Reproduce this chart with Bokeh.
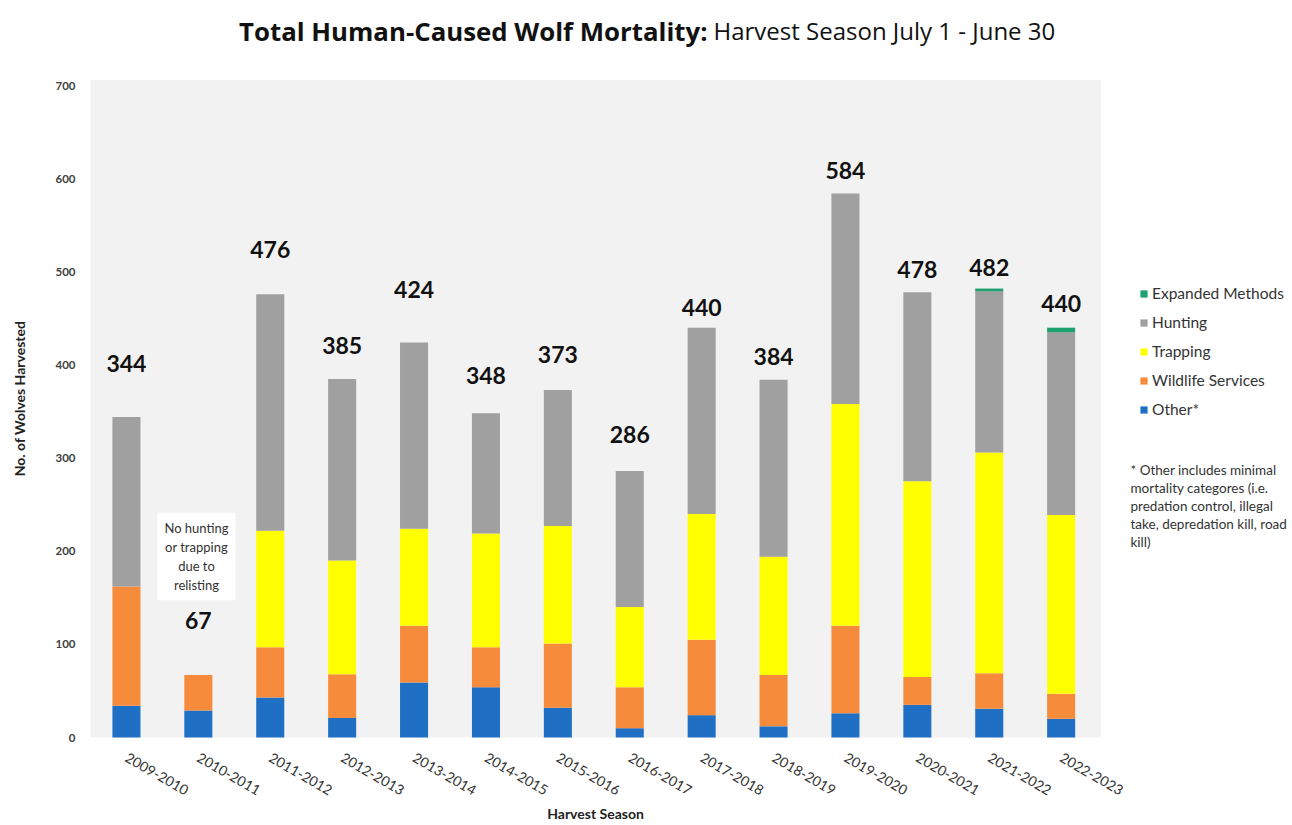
import math
from bokeh.plotting import figure
from bokeh.models import (ColumnDataSource, Legend, LegendItem, Label, LinearAxis,
                          FixedTicker, Range1d, BoxAnnotation, Grid)
from bokeh.core.properties import value
from bokeh.embed import file_html
from bokeh.resources import INLINE

# ---- data ----
seasons = ["2009-2010", "2010-2011", "2011-2012", "2012-2013", "2013-2014",
           "2014-2015", "2015-2016", "2016-2017", "2017-2018", "2018-2019",
           "2019-2020", "2020-2021", "2021-2022", "2022-2023"]
other = [34, 29, 43, 21, 59, 54, 32, 10, 24, 12, 26, 35, 31, 20]
wildlife = [128, 38, 54, 47, 61, 43, 69, 44, 81, 55, 94, 30, 38, 27]
trapping = [0, 0, 125, 122, 104, 122, 126, 86, 135, 127, 238, 210, 237, 192]
hunting = [182, 0, 254, 195, 200, 129, 146, 146, 200, 190, 226, 203, 173, 196]
expanded = [0, 0, 0, 0, 0, 0, 0, 0, 0, 0, 0, 0, 3, 5]
totals = [344, 67, 476, 385, 424, 348, 373, 286, 440, 384, 584, 478, 482, 440]
y_ticks = [0, 100, 200, 300, 400, 500, 600, 700]

series_names = ["Other*", "Wildlife Services", "Trapping", "Hunting", "Expanded Methods"]
series_keys = ["other", "wildlife", "trapping", "hunting", "expanded"]
colors = ["#1f6fc4", "#f68b3c", "#ffff00", "#a0a0a0", "#1fa071"]

# style: pixel gap between bar top and its total label (as drawn in reference)
label_gap_px = [54, 55, 45, 33, 53, 38, 36, 37, 20, 23, 23, 23, 21, 24]

FONT = "Lato"

# ---- layout (pixels) ----
W, H = 1288, 823
PLOT_LEFT, PLOT_BOTTOM, PLOT_TOP = 90, 737, 85   # where the value axis runs
CAT_W = 71.9                                      # pixels per season
PPU = (PLOT_BOTTOM - PLOT_TOP) / 700.0            # pixels per wolf

x_range = Range1d(-0.5 - PLOT_LEFT / CAT_W, -0.5 + (W - PLOT_LEFT) / CAT_W)
y_range = Range1d(-(H - PLOT_BOTTOM) / PPU, PLOT_BOTTOM / PPU)

def sy(img_y):
    return H - img_y

source = ColumnDataSource(dict(
    xi=list(range(len(seasons))), season=seasons,
    other=other, wildlife=wildlife, trapping=trapping,
    hunting=hunting, expanded=expanded, total=totals,
    total_text=[str(t) for t in totals],
    yoff=[-g for g in label_gap_px],
))

p = figure(width=W, height=H, x_range=x_range, y_range=y_range,
           x_axis_location=None, y_axis_location=None,
           output_backend="svg", toolbar_location=None,
           min_border=0)
p.background_fill_color = "white"
p.border_fill_color = "white"
p.outline_line_color = None
for r in list(p.center):
    if isinstance(r, Grid):
        r.visible = False

# plot-area shading
p.add_layout(BoxAnnotation(left=-0.5, right=13.55, bottom=0, top=706,
                           fill_color="#f2f2f2", fill_alpha=1.0,
                           line_color=None, level="underlay"))

renderers = p.vbar_stack(series_keys, x="xi", width=0.39, source=source,
                         color=colors, line_color=None)

p.text(x="xi", y="total", text="total_text", source=source,
       y_offset="yoff", text_align="center", text_baseline="middle",
       text_font=value(FONT), text_font_style="bold", text_font_size="23px",
       text_color="#111111")

# value axis
yaxis = LinearAxis(fixed_location=-0.5, ticker=FixedTicker(ticks=y_ticks))
yaxis.axis_line_color = None
yaxis.major_tick_line_color = None
yaxis.minor_tick_line_color = None
yaxis.major_label_text_font = FONT
yaxis.major_label_text_font_style = "bold"
yaxis.major_label_text_font_size = "11.5px"
yaxis.major_label_text_color = "#404040"
yaxis.major_label_standoff = 9
p.add_layout(yaxis, "left")

# category axis
xaxis = LinearAxis(fixed_location=0, ticker=FixedTicker(ticks=list(range(len(seasons)))),
                   major_label_overrides={i: s for i, s in enumerate(seasons)})
xaxis.axis_line_color = None
xaxis.major_tick_line_color = None
xaxis.minor_tick_line_color = None
xaxis.major_label_orientation = -0.52
xaxis.major_label_text_font = FONT
xaxis.major_label_text_font_size = "14px"
xaxis.major_label_text_color = "#333333"
xaxis.major_label_standoff = 13
p.add_layout(xaxis, "below")

# axis titles
p.add_layout(Label(x=19, y=sy(398), x_units="screen", y_units="screen",
                   text="No. of Wolves Harvested", angle=math.pi / 2,
                   text_align="center", text_baseline="middle",
                   text_font=FONT, text_font_style="bold", text_font_size="14px",
                   text_color="#222222"))
p.add_layout(Label(x=595, y=sy(813), x_units="screen", y_units="screen",
                   text="Harvest Season", text_align="center", text_baseline="middle",
                   text_font=FONT, text_font_style="bold", text_font_size="14px",
                   text_color="#222222"))

# legend (reverse order: top item is last stacked)
items = [LegendItem(label=n, renderers=[r]) for n, r in zip(series_names, renderers)][::-1]
legend = Legend(items=items, location=(1139, H - 418), orientation="vertical",
                glyph_width=9, glyph_height=9, label_height=18, spacing=11,
                label_standoff=4, padding=0, margin=0,
                label_text_font=FONT, label_text_font_size="15.5px",
                label_text_color="#333333",
                border_line_color=None, background_fill_alpha=0)
p.add_layout(legend, "center")

# title (bold part + regular part)
p.add_layout(Label(x=707, y=sy(30), x_units="screen", y_units="screen",
                   text="Total Human-Caused Wolf Mortality:", text_align="right",
                   text_baseline="middle", text_font="Open Sans", text_font_style="bold",
                   text_font_size="25.8px", text_color="#111111"))
p.add_layout(Label(x=713, y=sy(30), x_units="screen", y_units="screen",
                   text="Harvest Season July 1 - June 30", text_align="left",
                   text_baseline="middle", text_font="Open Sans",
                   text_font_size="24px", text_color="#111111"))

# annotation box
p.add_layout(Label(x=196, y=sy(556), x_units="screen", y_units="screen",
                   text="No hunting\nor trapping\ndue to\nrelisting",
                   text_align="center", text_baseline="middle",
                   text_font=FONT, text_font_size="13px", text_color="#333333",
                   text_line_height=1.2,
                   background_fill_color="white", padding=7))

# footnote
p.add_layout(Label(x=1130, y=sy(461), x_units="screen", y_units="screen",
                   text="* Other includes minimal\nmortality categores (i.e.\npredation control, illegal\ntake, depredation kill, road\nkill)",
                   text_align="left", text_baseline="top",
                   text_font=FONT, text_font_size="13.5px", text_color="#333333",
                   text_line_height=1.13))

open("out.html", "w").write(file_html(p, INLINE))
